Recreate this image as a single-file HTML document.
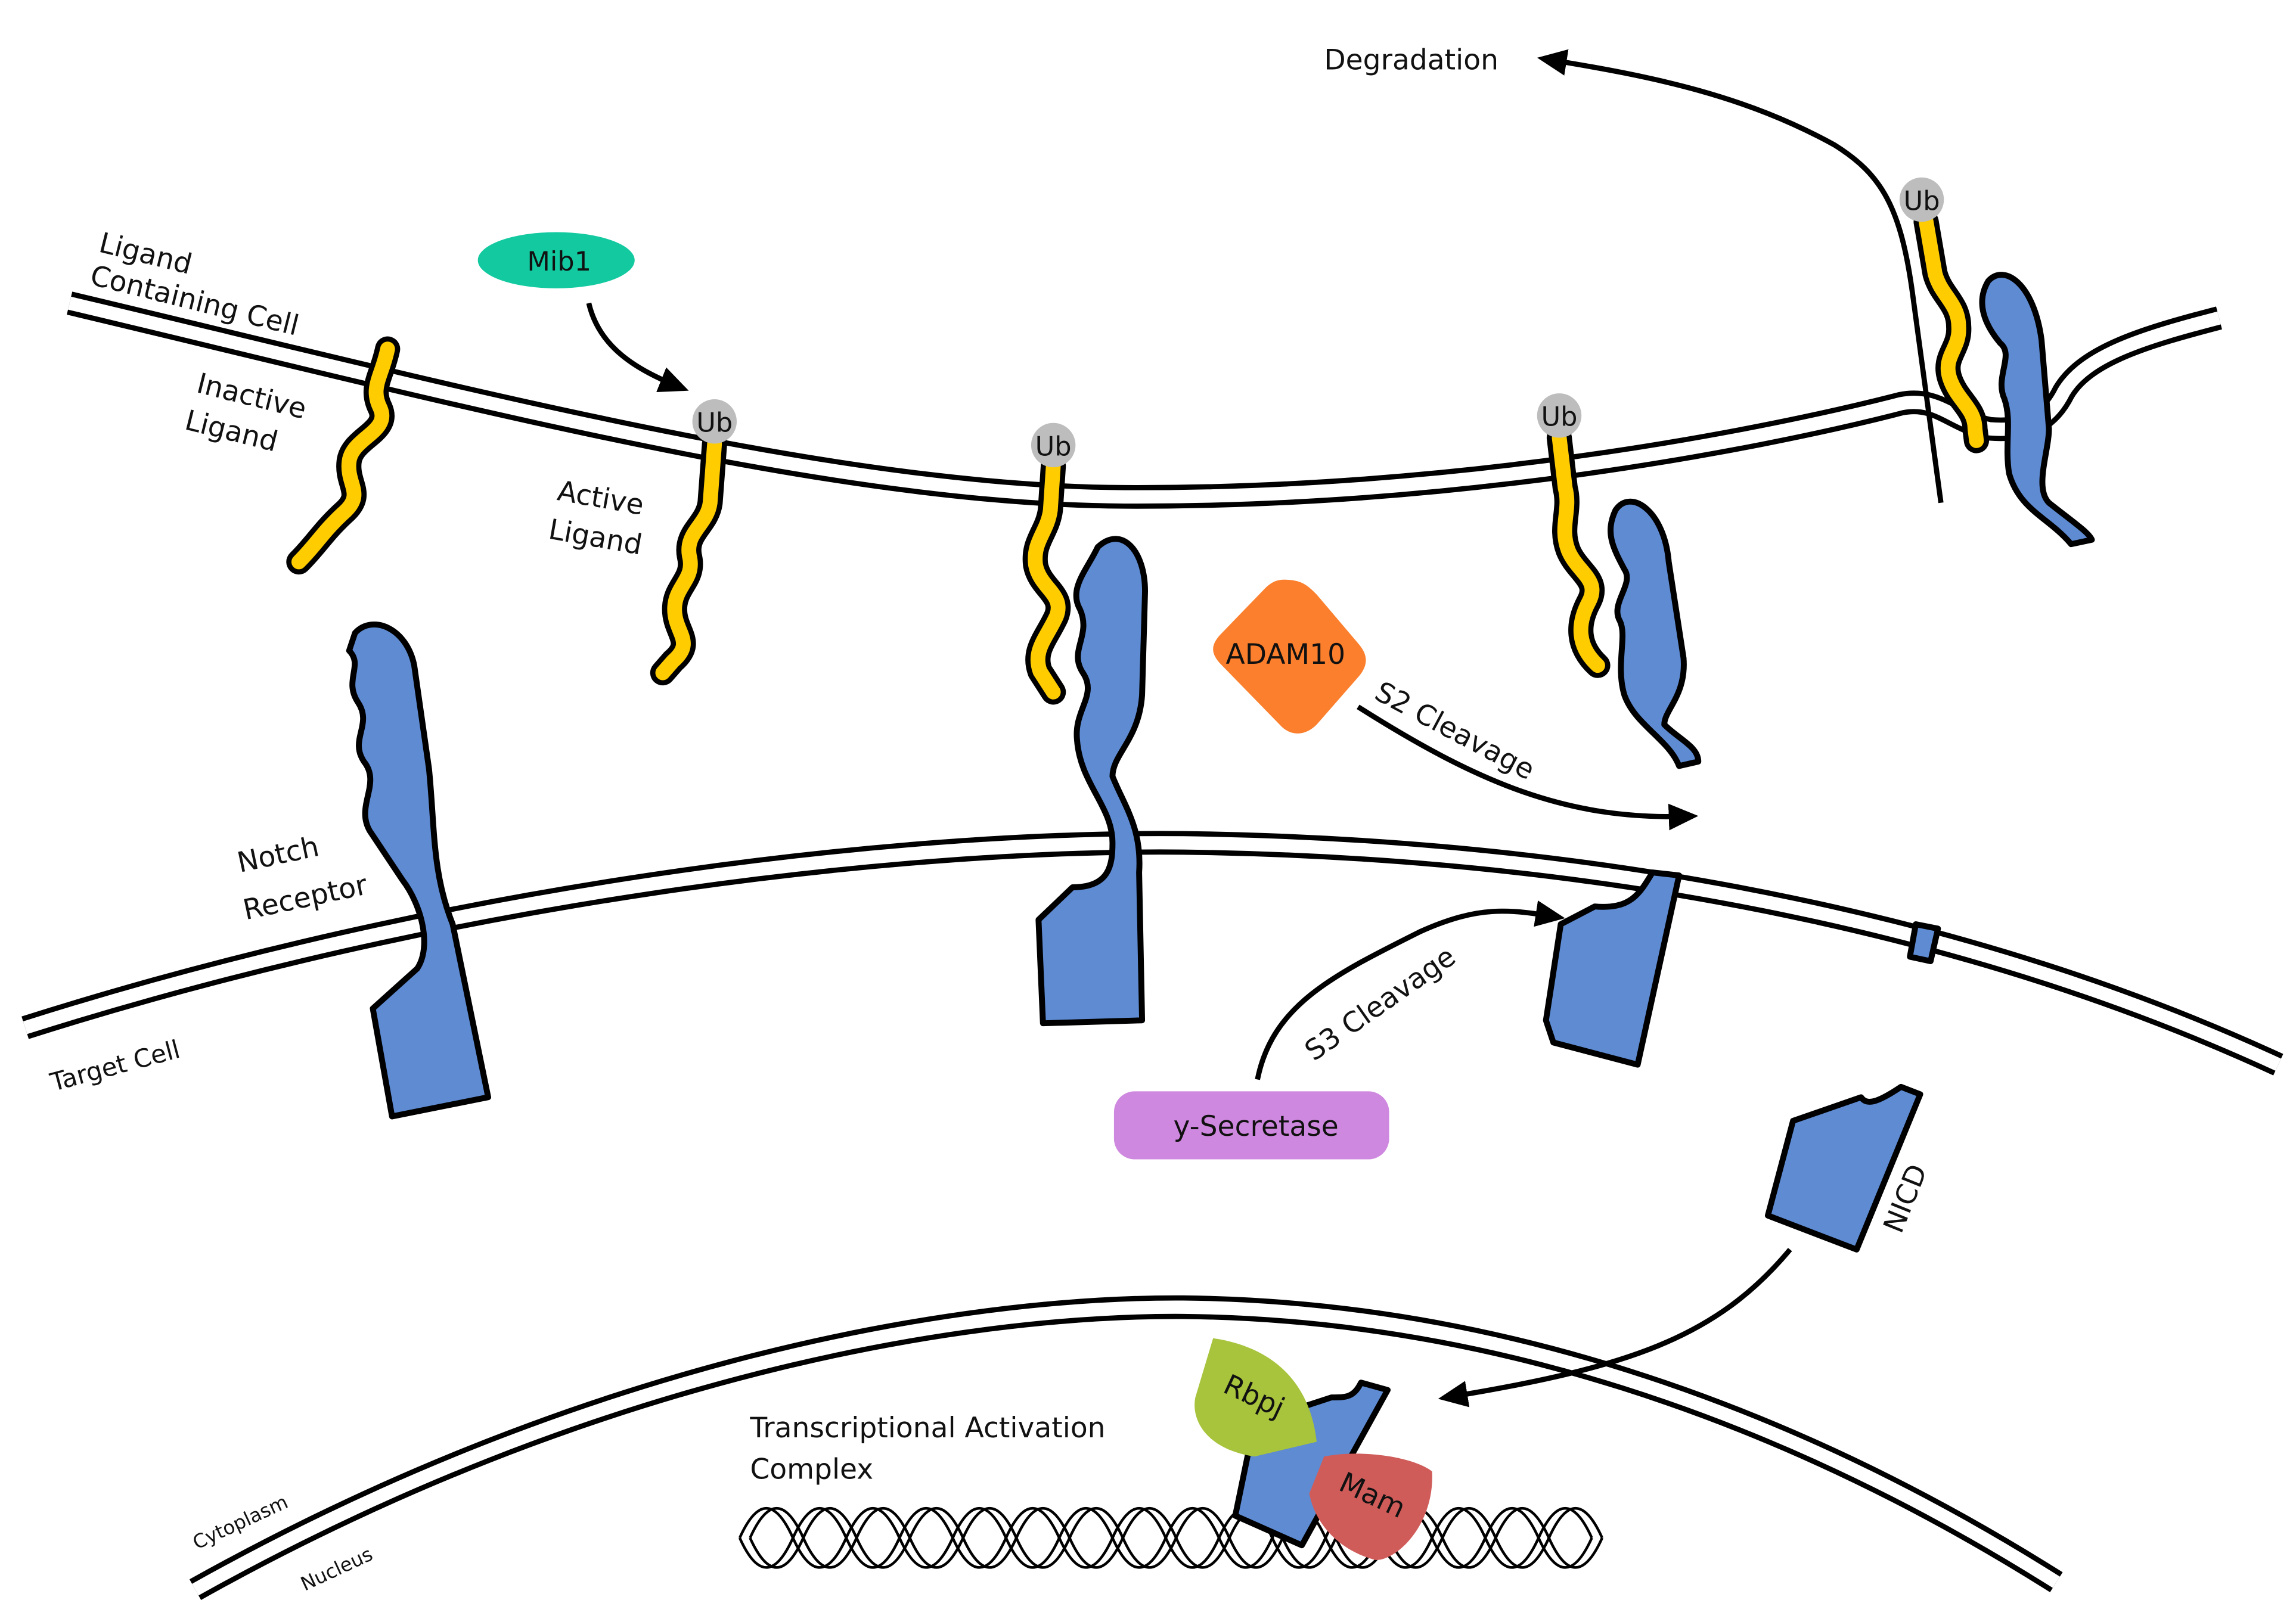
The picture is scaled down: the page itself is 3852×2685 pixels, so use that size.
<!DOCTYPE html>
<html><head><meta charset="utf-8"><style>
html,body{margin:0;padding:0;background:#fff}
svg{display:block}
text{font-family:"DejaVu Sans","Liberation Sans",sans-serif;fill:#111}
</style></head><body>
<svg width="3852" height="2685" viewBox="0 0 1552 1082" preserveAspectRatio="none" xmlns="http://www.w3.org/2000/svg">
<defs>
<marker id="ah" markerWidth="20" markerHeight="18" refX="14" refY="9" orient="auto" markerUnits="userSpaceOnUse" viewBox="0 0 20 18"><path d="M0,0 L20,9 L0,18 Z" fill="#000"/></marker>
</defs>
<g fill="none" stroke-linecap="butt">
<path d="M47,205 C300,265 560,335 760,336 C980,337 1180,300 1285,273 C1310,268 1320,285 1345,290 C1370,292 1385,285 1395,265 C1410,240 1450,228 1500,215" stroke="#000" stroke-width="16"/>
<path d="M47,205 C300,265 560,335 760,336 C980,337 1180,300 1285,273 C1310,268 1320,285 1345,290 C1370,292 1385,285 1395,265 C1410,240 1450,228 1500,215" stroke="#fff" stroke-width="9"/>
<path d="M17,695 C300,605 600,568 800,570 C1100,574 1350,632 1540,720" stroke="#000" stroke-width="16"/>
<path d="M17,695 C300,605 600,568 800,570 C1100,574 1350,632 1540,720" stroke="#fff" stroke-width="9"/>
<path d="M132,1075 C400,925 650,883 800,884 C1000,886 1200,950 1390,1070" stroke="#000" stroke-width="16"/>
<path d="M132,1075 C400,925 650,883 800,884 C1000,886 1200,950 1390,1070" stroke="#fff" stroke-width="9"/>
<path d="M1312,340 L1293,200 C1285,140 1272,118 1240,98 C1180,65 1120,52 1045,40" stroke="#000" stroke-width="3.5" marker-end="url(#ah)"/>
<path d="M398,205 C405,235 430,250 460,262" stroke="#000" stroke-width="3.5" marker-end="url(#ah)"/>
<path d="M918,478 C1000,530 1060,555 1142,552" stroke="#000" stroke-width="3.5" marker-end="url(#ah)"/>
<path d="M850,730 C860,680 900,660 960,630 C1000,612 1020,615 1052,620" stroke="#000" stroke-width="3.5" marker-end="url(#ah)"/>
<path d="M1210,845 C1160,905 1100,925 978,945" stroke="#000" stroke-width="3.5" marker-end="url(#ah)"/>
<g stroke="#000" stroke-width="1.8">
<path d="M500,1040 q18,-40 36,0 t36,0 t36,0 t36,0 t36,0 t36,0 t36,0 t36,0 t36,0 t36,0 t36,0 t36,0 t36,0 t36,0 t36,0 t36,0"/>
<path d="M507,1040 q18,-40 36,0 t36,0 t36,0 t36,0 t36,0 t36,0 t36,0 t36,0 t36,0 t36,0 t36,0 t36,0 t36,0 t36,0 t36,0 t36,0"/>
<path d="M500,1040 q18,40 36,0 t36,0 t36,0 t36,0 t36,0 t36,0 t36,0 t36,0 t36,0 t36,0 t36,0 t36,0 t36,0 t36,0 t36,0 t36,0"/>
<path d="M507,1040 q18,40 36,0 t36,0 t36,0 t36,0 t36,0 t36,0 t36,0 t36,0 t36,0 t36,0 t36,0 t36,0 t36,0 t36,0 t36,0 t36,0"/>
</g>
</g>
<g fill="#5e8bd2" stroke="#000" stroke-width="4" stroke-linejoin="round">
<path d="M240,428 C252,415 275,425 280,450 L290,520 C294,560 292,590 306,625 L330,742 L265,755 L252,682 L282,655 C292,640 285,612 272,595 L250,562 C240,545 258,530 246,515 C236,500 252,490 242,475 C232,460 246,450 236,440 Z"/>
<path d="M742,370 C758,355 774,372 774,400 L772,470 C770,500 752,510 752,525 C760,545 772,560 770,590 L772,690 L705,692 L702,622 L725,600 C750,600 752,585 752,570 C752,545 730,530 728,500 C726,480 742,470 732,455 C722,440 738,430 730,412 C722,398 735,385 742,370 Z"/>
<path d="M1092,345 C1102,330 1125,345 1128,380 L1138,445 C1140,470 1125,480 1125,490 C1135,500 1148,505 1148,515 L1135,518 C1128,500 1105,490 1098,470 C1092,450 1100,430 1095,420 C1088,408 1105,395 1098,385 C1090,370 1085,360 1092,345 Z"/>
<path d="M1117,590 L1135,592 L1107,720 L1050,705 L1045,690 L1055,625 L1078,613 C1102,615 1108,605 1117,590 Z"/>
<path d="M1344,190 C1355,178 1375,192 1380,230 L1385,290 C1385,305 1375,330 1385,340 C1400,352 1412,360 1414,365 L1400,368 C1385,350 1365,345 1358,320 C1355,300 1360,285 1355,270 C1348,255 1362,240 1352,232 C1342,220 1335,205 1344,190 Z"/>
<path d="M1295,625 L1310,628 L1305,650 L1291,647 Z"/>
<path d="M1212,758 L1258,742 C1262,748 1270,745 1285,735 L1298,740 L1255,845 L1195,822 Z"/>
<path d="M848,962 L900,945 C910,945 915,945 920,935 L938,940 L880,1045 L835,1025 Z"/>
</g>
<g fill="none" stroke-linecap="round" stroke-linejoin="round">
<g stroke="#000" stroke-width="17">
<path d="M262,236 C258,255 250,262 257,276 C264,292 238,296 236,312 C234,328 247,334 232,347 C218,360 214,368 202,380"/>
<path d="M483,300 L480,340 C478,355 463,360 466,376 C470,392 456,396 456,412 C456,428 470,434 455,447 L448,455"/>
<path d="M712,315 L710,345 C708,360 698,366 700,382 C703,398 720,402 714,417 C707,432 698,440 703,454 L712,468"/>
<path d="M1054,296 L1058,330 C1062,345 1054,356 1060,372 C1066,387 1082,392 1074,407 C1066,422 1066,437 1080,450"/>
<path d="M1302,150 L1308,185 C1312,200 1324,205 1324,221 C1325,236 1313,241 1318,256 C1323,271 1335,276 1335,290 L1336,298"/>
</g>
<g stroke="#ffcc00" stroke-width="10">
<path d="M262,236 C258,255 250,262 257,276 C264,292 238,296 236,312 C234,328 247,334 232,347 C218,360 214,368 202,380"/>
<path d="M483,300 L480,340 C478,355 463,360 466,376 C470,392 456,396 456,412 C456,428 470,434 455,447 L448,455"/>
<path d="M712,315 L710,345 C708,360 698,366 700,382 C703,398 720,402 714,417 C707,432 698,440 703,454 L712,468"/>
<path d="M1054,296 L1058,330 C1062,345 1054,356 1060,372 C1066,387 1082,392 1074,407 C1066,422 1066,437 1080,450"/>
<path d="M1302,150 L1308,185 C1312,200 1324,205 1324,221 C1325,236 1313,241 1318,256 C1323,271 1335,276 1335,290 L1336,298"/>
</g>
</g>
<g fill="#bdbdbd"><circle cx="483" cy="285" r="15"/><circle cx="712" cy="301" r="15"/><circle cx="1054" cy="281" r="15"/><circle cx="1299" cy="135" r="15"/></g>
<g font-size="18" text-anchor="middle"><text x="483" y="292">Ub</text><text x="712" y="308">Ub</text><text x="1054" y="288">Ub</text><text x="1299" y="142">Ub</text></g>
<ellipse cx="376" cy="176" rx="53" ry="19" fill="#12c9a0"/>
<text x="378" y="183" font-size="18" text-anchor="middle">Mib1</text>
<path d="M868,392 C880,392 884,396 890,402 L918,435 C925,443 925,450 918,458 L890,490 C882,498 872,498 865,490 L826,450 C818,442 818,436 826,428 L855,398 C860,393 864,392 868,392 Z" fill="#fb7f2c"/>
<text x="869" y="449" font-size="19" text-anchor="middle">ADAM10</text>
<rect x="753" y="738" width="186" height="46" rx="14" fill="#cf88df"/>
<text x="849" y="768" font-size="19" text-anchor="middle">y-Secretase</text>
<path d="M820,905 C855,910 885,930 890,975 L848,985 C815,980 805,960 808,945 Z" fill="#a7c43c"/>
<path d="M895,985 C920,980 955,985 968,995 C970,1030 945,1055 930,1055 C910,1050 890,1035 885,1010 Z" fill="#d05c5a"/>
<text transform="translate(845,950) rotate(25)" font-size="19" text-anchor="middle">Rbpj</text>
<text transform="translate(925,1017) rotate(25)" font-size="19" text-anchor="middle">Mam</text>
<g font-size="19">
<text x="895" y="47">Degradation</text>
<text transform="translate(66,170) rotate(14)">Ligand</text>
<text transform="translate(60,192) rotate(14)">Containing Cell</text>
<text transform="translate(132,265) rotate(14)">Inactive</text>
<text transform="translate(124,290) rotate(14)">Ligand</text>
<text transform="translate(376,338) rotate(10)">Active</text>
<text transform="translate(370,364) rotate(10)">Ligand</text>
<text transform="translate(162,590) rotate(-12)">Notch</text>
<text transform="translate(166,622) rotate(-12)">Receptor</text>
<text transform="translate(36,738) rotate(-15)" font-size="17">Target Cell</text>
<text transform="translate(928,472) rotate(28)">S2 Cleavage</text>
<text transform="translate(888,718) rotate(-35)">S3 Cleavage</text>
<text transform="translate(1285,835) rotate(-68)">NICD</text>
<text x="507" y="972">Transcriptional Activation</text>
<text x="507" y="1000">Complex</text>
<text transform="translate(133,1048) rotate(-25)" font-size="13">Cytoplasm</text>
<text transform="translate(206,1076) rotate(-25)" font-size="13">Nucleus</text>
</g>
</svg>
</body></html>
